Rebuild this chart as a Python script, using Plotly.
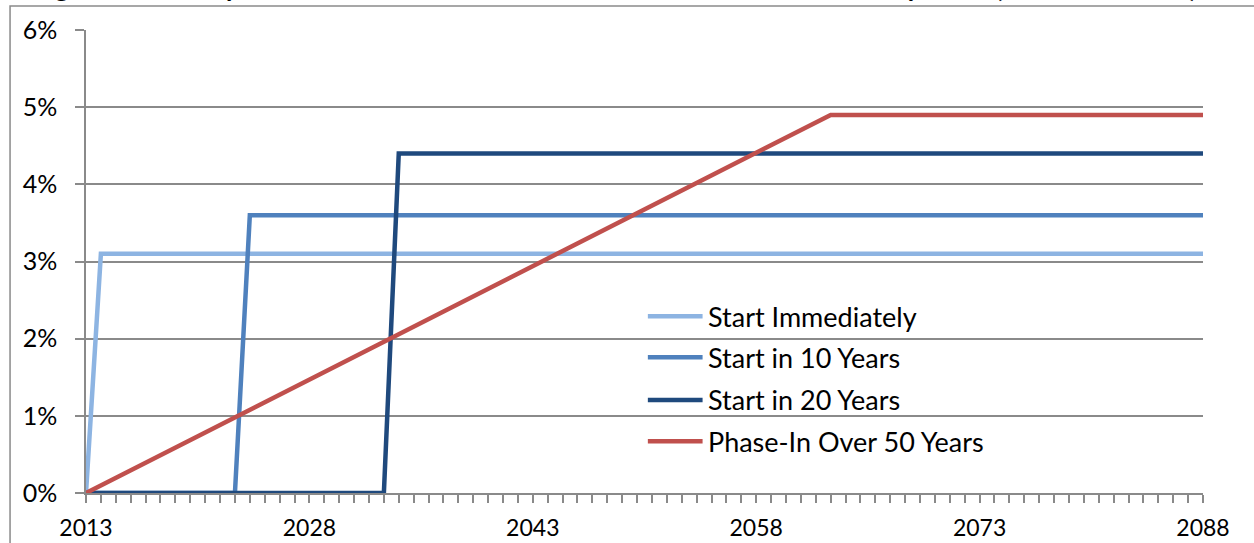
import plotly.graph_objects as go

# Projection years, one point per year
years = list(range(2013, 2089))

# Benefit reduction (percent of GDP) under each timing scenario
start_immediately = [
    0.0, 3.1, 3.1, 3.1, 3.1, 3.1, 3.1, 3.1, 3.1, 3.1,
    3.1, 3.1, 3.1, 3.1, 3.1, 3.1, 3.1, 3.1, 3.1, 3.1,
    3.1, 3.1, 3.1, 3.1, 3.1, 3.1, 3.1, 3.1, 3.1, 3.1,
    3.1, 3.1, 3.1, 3.1, 3.1, 3.1, 3.1, 3.1, 3.1, 3.1,
    3.1, 3.1, 3.1, 3.1, 3.1, 3.1, 3.1, 3.1, 3.1, 3.1,
    3.1, 3.1, 3.1, 3.1, 3.1, 3.1, 3.1, 3.1, 3.1, 3.1,
    3.1, 3.1, 3.1, 3.1, 3.1, 3.1, 3.1, 3.1, 3.1, 3.1,
    3.1, 3.1, 3.1, 3.1, 3.1, 3.1,
]
start_in_10 = [
    0.0, 0.0, 0.0, 0.0, 0.0, 0.0, 0.0, 0.0, 0.0, 0.0,
    0.0, 3.6, 3.6, 3.6, 3.6, 3.6, 3.6, 3.6, 3.6, 3.6,
    3.6, 3.6, 3.6, 3.6, 3.6, 3.6, 3.6, 3.6, 3.6, 3.6,
    3.6, 3.6, 3.6, 3.6, 3.6, 3.6, 3.6, 3.6, 3.6, 3.6,
    3.6, 3.6, 3.6, 3.6, 3.6, 3.6, 3.6, 3.6, 3.6, 3.6,
    3.6, 3.6, 3.6, 3.6, 3.6, 3.6, 3.6, 3.6, 3.6, 3.6,
    3.6, 3.6, 3.6, 3.6, 3.6, 3.6, 3.6, 3.6, 3.6, 3.6,
    3.6, 3.6, 3.6, 3.6, 3.6, 3.6,
]
start_in_20 = [
    0.0, 0.0, 0.0, 0.0, 0.0, 0.0, 0.0, 0.0, 0.0, 0.0,
    0.0, 0.0, 0.0, 0.0, 0.0, 0.0, 0.0, 0.0, 0.0, 0.0,
    0.0, 4.4, 4.4, 4.4, 4.4, 4.4, 4.4, 4.4, 4.4, 4.4,
    4.4, 4.4, 4.4, 4.4, 4.4, 4.4, 4.4, 4.4, 4.4, 4.4,
    4.4, 4.4, 4.4, 4.4, 4.4, 4.4, 4.4, 4.4, 4.4, 4.4,
    4.4, 4.4, 4.4, 4.4, 4.4, 4.4, 4.4, 4.4, 4.4, 4.4,
    4.4, 4.4, 4.4, 4.4, 4.4, 4.4, 4.4, 4.4, 4.4, 4.4,
    4.4, 4.4, 4.4, 4.4, 4.4, 4.4,
]
phase_in_50 = [
    0.000, 0.098, 0.196, 0.294, 0.392, 0.490, 0.588, 0.686, 0.784, 0.882,
    0.980, 1.078, 1.176, 1.274, 1.372, 1.470, 1.568, 1.666, 1.764, 1.862,
    1.960, 2.058, 2.156, 2.254, 2.352, 2.450, 2.548, 2.646, 2.744, 2.842,
    2.940, 3.038, 3.136, 3.234, 3.332, 3.430, 3.528, 3.626, 3.724, 3.822,
    3.920, 4.018, 4.116, 4.214, 4.312, 4.410, 4.508, 4.606, 4.704, 4.802,
    4.900, 4.900, 4.900, 4.900, 4.900, 4.900, 4.900, 4.900, 4.900, 4.900,
    4.900, 4.900, 4.900, 4.900, 4.900, 4.900, 4.900, 4.900, 4.900, 4.900,
    4.900, 4.900, 4.900, 4.900, 4.900, 4.900,
]

series_names = [
    "Start Immediately",
    "Start in 10 Years",
    "Start in 20 Years",
    "Phase-In Over 50 Years",
]
series_values = [start_immediately, start_in_10, start_in_20, phase_in_50]
series_colors = ["#8DB4E2", "#4F81BD", "#1F497D", "#C0504D"]

title_text = ("Figure 4: Primary Benefit Reduction to Reduce Cost to Historical "
              "Levels by 2088 (Percent of GDP)")

FONT = "Lato, 'Open Sans', sans-serif"
GRAY = "#8A8A8A"

fig = go.Figure()
for name, vals, color in zip(series_names, series_values, series_colors):
    fig.add_trace(go.Scatter(
        x=years, y=vals, name=name, mode="lines",
        line=dict(color=color, width=4.5),
        cliponaxis=False, showlegend=False,
    ))

# Legend drawn as swatch lines with labels, placed inside the plot area
legend_x0, legend_x1, legend_tx = 0.503, 0.552, 0.555
legend_rows = [0.382, 0.293, 0.201, 0.112]
for name, color, ry in zip(series_names, series_colors, legend_rows):
    fig.add_shape(type="line", xref="paper", yref="paper",
                  x0=legend_x0, x1=legend_x1, y0=ry, y1=ry,
                  line=dict(color=color, width=4.5))
    fig.add_annotation(xref="paper", yref="paper", x=legend_tx, y=ry,
                       xanchor="left", yanchor="middle", showarrow=False,
                       text=name, font=dict(family=FONT, size=27, color="#000"))

# Chart frame around the whole figure area
fig.add_shape(type="rect", xref="paper", yref="paper",
              x0=-0.068, x1=1.2, y0=-0.3, y1=1.052,
              line=dict(color=GRAY, width=1.5), layer="below")

# Figure title sitting above the frame
fig.add_annotation(xref="paper", yref="paper", x=0.9964, y=1.054,
                   xanchor="right", yanchor="bottom", showarrow=False,
                   text="<b>" + title_text + "</b>",
                   font=dict(family=FONT, size=27, color="#000"))

fig.update_layout(
    width=1254, height=543,
    margin=dict(l=86, r=51, t=30, b=50),
    paper_bgcolor="white", plot_bgcolor="white",
    font=dict(family=FONT, size=23, color="#000"),
)
fig.update_xaxes(
    type="linear", range=[2013, 2088], tick0=2013, dtick=15,
    ticks="outside", ticklen=8, tickwidth=1.5, tickcolor=GRAY,
    showline=True, linecolor=GRAY, linewidth=1.5,
    showgrid=False, zeroline=False, layer="below traces",
    ticklabelstandoff=6, automargin=False,
    minor=dict(dtick=1, tick0=2013, ticks="outside", ticklen=8,
               tickwidth=1.5, tickcolor=GRAY, showgrid=False),
)
fig.update_yaxes(
    range=[0, 6], dtick=1, ticksuffix="%",
    ticks="outside", ticklen=9, tickwidth=1.5, tickcolor=GRAY,
    showline=True, linecolor=GRAY, linewidth=1.5,
    showgrid=True, gridcolor=GRAY, gridwidth=1.5,
    zeroline=False, layer="below traces",
    ticklabelstandoff=13, automargin=False,
    tickfont=dict(size=25),
)

fig.write_html("out.html")
